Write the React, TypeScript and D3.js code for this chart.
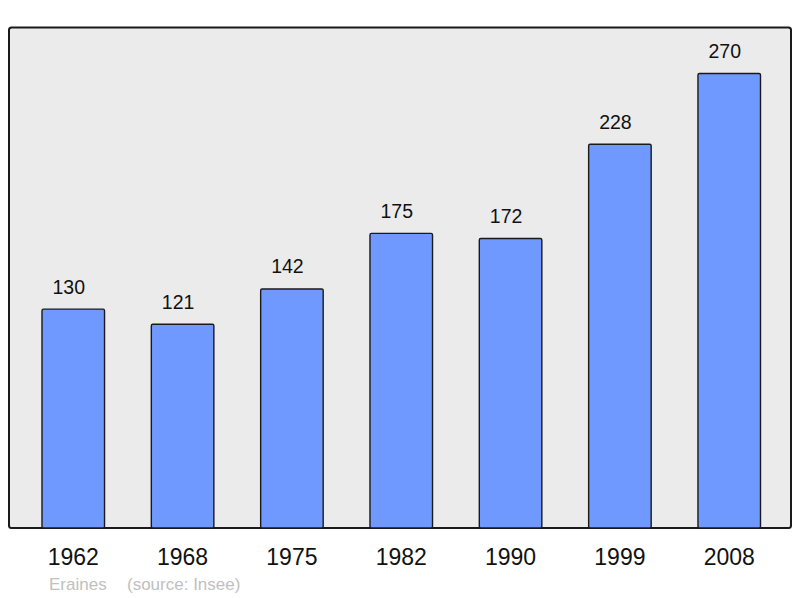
import React from "react";
import * as d3 from "d3";

const years = ["1962", "1968", "1975", "1982", "1990", "1999", "2008"];
const population = [130, 121, 142, 175, 172, 228, 270];
const townName = "Eraines";
const sourceText = "(source: Insee)";

const W = 800;
const H = 598;

export default function App() {
  const x = d3
    .scaleBand<string>()
    .domain(years)
    .range([9.2, 793.3])
    .paddingInner(0.428)
    .paddingOuter(0.3);
  const y = d3.scaleLinear().domain([0, 270]).range([528, 73.5]);
  const font = "'Liberation Sans', Arial, sans-serif";

  return (
    <svg
      width={W}
      height={H}
      style={{ position: "absolute", left: 0, top: 0, display: "block" }}
    >
      <rect x={0} y={0} width={W} height={H} fill="#ffffff" />
      <rect
        x={9}
        y={27.5}
        width={782}
        height={500.5}
        rx={2.5}
        fill="#ebebeb"
        stroke="#1a1a1a"
        strokeWidth={2}
      />
      {years.map((yr, i) => {
        const bx = x(yr)!;
        const by = y(population[i]);
        return (
          <g key={yr}>
            <rect
              x={bx}
              y={by}
              width={x.bandwidth()}
              height={y(0) - by}
              rx={1.5}
              fill="#7099ff"
              stroke="#1a1a1a"
              strokeWidth={1.4}
            />
            <text
              x={bx + x.bandwidth() / 2 - 4.5}
              y={by - 15.5}
              textAnchor="middle"
              fontFamily={font}
              fontSize={19.5}
              fill="#111"
            >
              {population[i]}
            </text>
            <text
              x={bx + x.bandwidth() / 2}
              y={565}
              textAnchor="middle"
              fontFamily={font}
              fontSize={23}
              fill="#111"
            >
              {yr}
            </text>
          </g>
        );
      })}
      <text x={49} y={590} fontFamily={font} fontSize={17} fill="#c0c0c0">
        {townName}
      </text>
      <text x={127} y={590} fontFamily={font} fontSize={17} fill="#c0c0c0">
        {sourceText}
      </text>
    </svg>
  );
}
